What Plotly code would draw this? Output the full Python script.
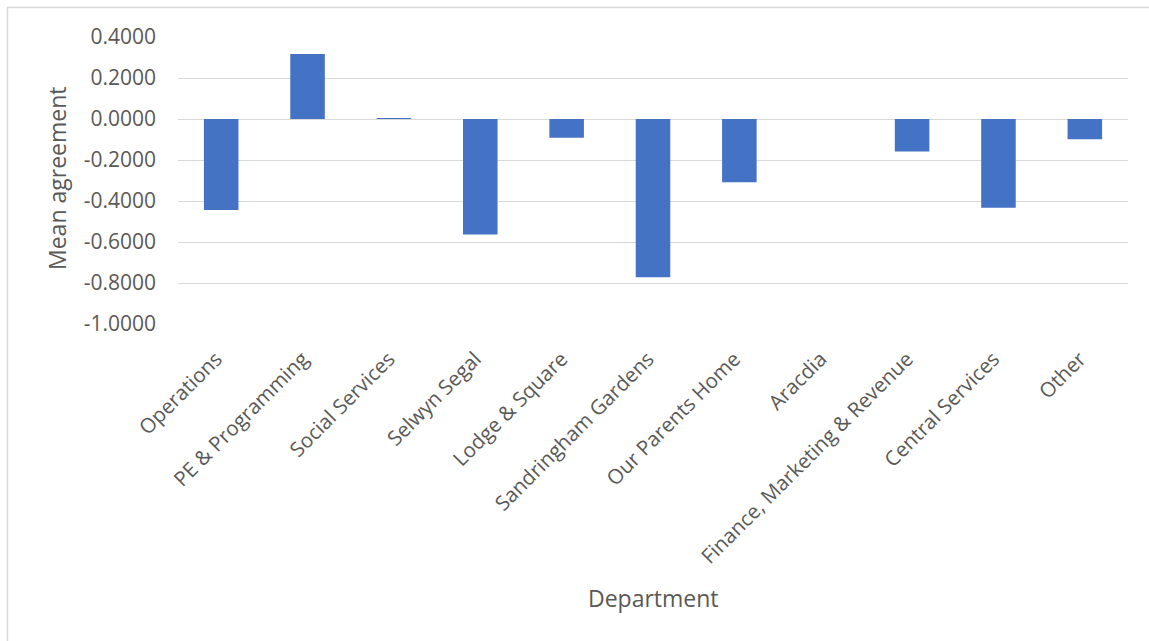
import plotly.graph_objects as go

# Department labels and mean agreement scores
departments = [
    "Operations",
    "PE & Programming",
    "Social Services",
    "Selwyn Segal",
    "Lodge & Square",
    "Sandringham Gardens",
    "Our Parents Home",
    "Aracdia",
    "Finance, Marketing & Revenue",
    "Central Services",
    "Other",
]
mean_agreement = [-0.444, 0.317, 0.003, -0.563, -0.091, -0.772, -0.309, 0.0, -0.159, -0.433, -0.099]

y_ticks = [0.4, 0.2, 0.0, -0.2, -0.4, -0.6, -0.8, -1.0]
y_tick_text = [f"{v:.4f}" for v in y_ticks]  # plain hyphen for negatives

W, H = 1149, 641
L, R, T, B = 178, 21, 37, 317
pw, ph = W - L - R, H - T - B

TEXT = "#595959"
GRID = "#d9d9d9"
FONT = "Open Sans"

fig = go.Figure(
    go.Bar(
        x=departments,
        y=mean_agreement,
        marker=dict(color="#4472C4", line=dict(width=0)),
    )
)


def px_x(p):
    return (p - L) / pw


def px_y(p):
    return (H - B - p) / ph


fig.update_layout(
    width=W,
    height=H,
    margin=dict(l=L, r=R, t=T, b=B),
    paper_bgcolor="white",
    plot_bgcolor="white",
    bargap=0.6,
    showlegend=False,
    font=dict(family=FONT, color=TEXT, size=20),
    xaxis=dict(
        tickangle=-45,
        tickfont=dict(size=20.5, color=TEXT),
        showgrid=False,
        showline=False,
        zeroline=False,
        ticks="",
        ticklabelstandoff=18,
        ticklabelshift=-5,
    ),
    yaxis=dict(
        range=[-1.0, 0.4],
        tickvals=y_ticks,
        ticktext=y_tick_text,
        tickfont=dict(size=21, color=TEXT),
        showgrid=True,
        gridcolor=GRID,
        gridwidth=1,
        zeroline=False,
        showline=False,
        ticks="",
        ticklabelstandoff=21,
    ),
    shapes=[
        dict(
            type="rect",
            xref="paper",
            yref="paper",
            x0=px_x(7.5),
            x1=px_x(1200),
            y0=px_y(700),
            y1=px_y(7.5),
            line=dict(color=GRID, width=1.5),
            fillcolor="rgba(0,0,0,0)",
            layer="below",
        )
    ],
    annotations=[
        dict(
            text="Mean agreement",
            xref="paper",
            yref="paper",
            x=px_x(57),
            y=px_y(179),
            textangle=-90,
            showarrow=False,
            font=dict(size=23, color=TEXT),
            xanchor="center",
            yanchor="middle",
        ),
        dict(
            text="Department",
            xref="paper",
            yref="paper",
            x=0.5,
            y=px_y(598),
            showarrow=False,
            font=dict(size=23, color=TEXT),
            xanchor="center",
            yanchor="middle",
        ),
    ],
)

fig.write_html("out.html")
